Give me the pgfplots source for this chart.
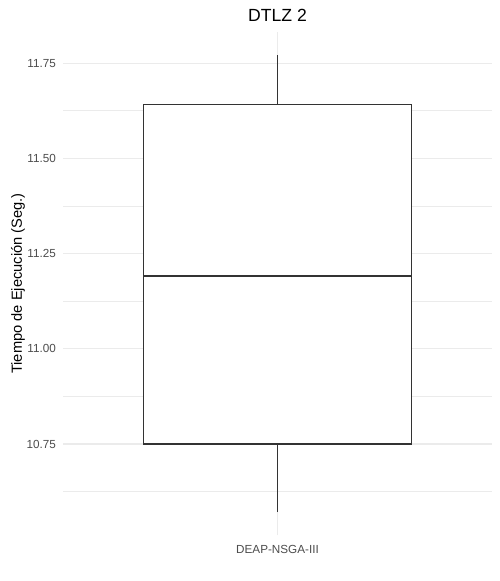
\documentclass[border=0pt]{standalone}
\usepackage{fontspec}
\setmainfont{Liberation Sans}
\usepackage{pgfplots}
\pgfplotsset{compat=1.18}
\definecolor{gridc}{HTML}{EBEBEB}
\definecolor{boxc}{HTML}{333333}
\definecolor{tickc}{HTML}{4D4D4D}
% box statistics: lower whisker, Q1, median, Q3, upper whisker
\begin{document}
\begin{tikzpicture}[x=1pt,y=1pt]
\fill[white, use as bounding box] (0,0) rectangle (500,581);
\begin{axis}[
  at={(63pt,46pt)}, anchor=south west,
  scale only axis, width=429pt, height=503pt,
  xmin=0.4, xmax=1.6, ymin=10.511, ymax=11.832,
  xtick={1}, xticklabels={DEAP-NSGA-III},
  ytick={10.75,11,11.25,11.5,11.75},
  minor ytick={10.625,10.875,11.125,11.375,11.625},
  yticklabel style={/pgf/number format/fixed, /pgf/number format/fixed zerofill, /pgf/number format/precision=2, /pgf/number format/assume math mode=true, anchor=east, inner sep=0pt, xshift=-7pt},
  xticklabel style={anchor=north, inner sep=0pt, yshift=-10pt},
  ticklabel style={font=\fontsize{11.7}{14}\selectfont, text=tickc},
  major tick length=0pt, minor tick length=0pt,
  tick style={draw=none},
  axis line style={draw=none},
  xmajorgrids, ymajorgrids, yminorgrids,
  major grid style={gridc, line width=1.1pt},
  minor grid style={gridc, line width=0.8pt},
  title={DTLZ 2},
  every axis title/.style={at={(axis description cs:0.5,1)}, anchor=base, inner sep=0pt, yshift=10pt, font=\fontsize{17.6}{20}\selectfont},
  ylabel={Tiempo de Ejecución (Seg.)},
  every axis y label/.style={at={(axis description cs:0,0.5)}, rotate=90, anchor=south, inner sep=0pt, yshift=38pt, font=\fontsize{14.67}{17}\selectfont},
  clip=false,
]
% upper whisker
\addplot[boxc, line width=1.1pt, mark=none] coordinates {(1,11.641) (1,11.772)};
% lower whisker
\addplot[boxc, line width=1.1pt, mark=none] coordinates {(1,10.571) (1,10.75)};
% box Q1..Q3
\addplot[draw=boxc, fill=white, line width=1.1pt, mark=none] coordinates {(0.625,10.75) (1.375,10.75) (1.375,11.641) (0.625,11.641)} -- cycle;
% median
\addplot[boxc, line width=2pt, mark=none] coordinates {(0.625,11.192) (1.375,11.192)};
\end{axis}
\end{tikzpicture}
\end{document}
